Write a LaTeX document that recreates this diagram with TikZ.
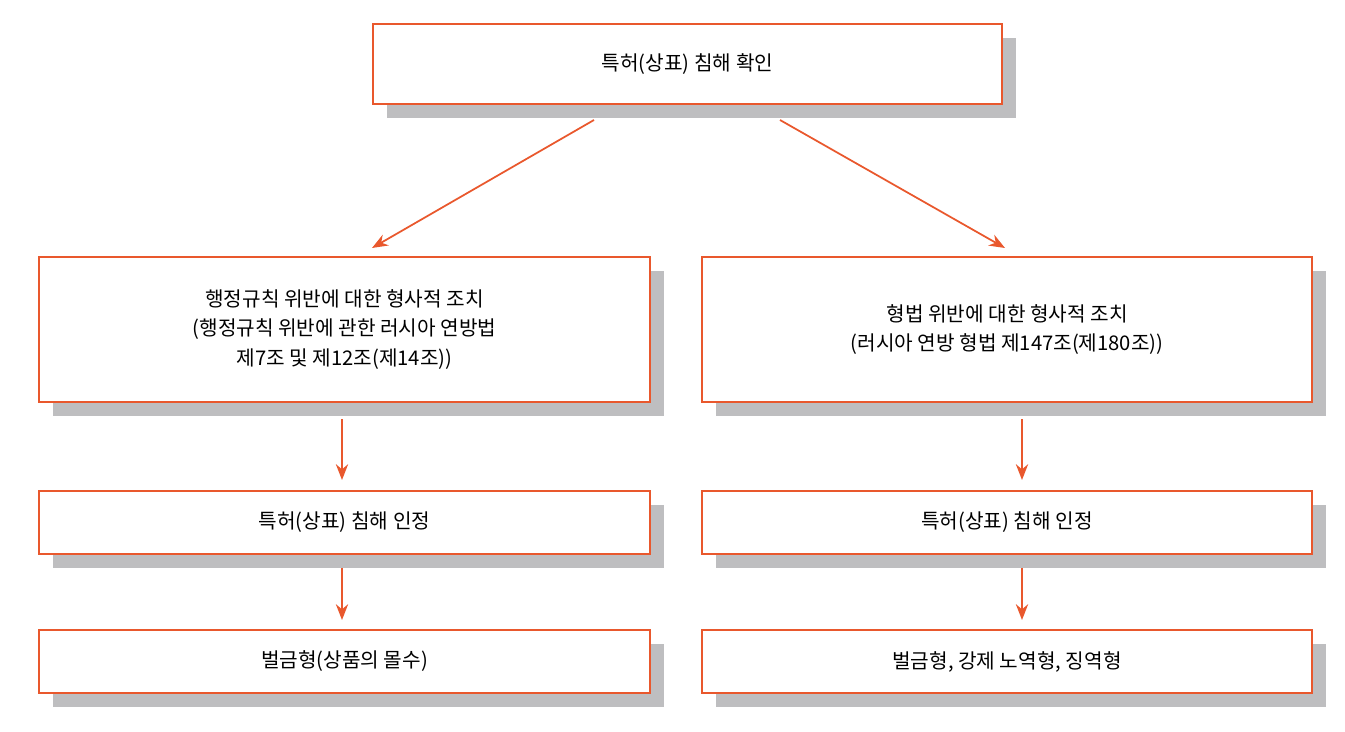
\documentclass[tikz,border=0pt]{standalone}
\usepackage{fontspec}
\setmainfont{Noto Sans CJK KR}
\usetikzlibrary{arrows.meta}
\definecolor{org}{RGB}{233,88,45}
\definecolor{shd}{RGB}{190,190,192}
\begin{document}
\begin{tikzpicture}[x=0.02cm,y=-0.02cm,
  box/.style={draw=org,line width=1.2pt,fill=white,align=center,font=\fontsize{11.5}{17}\selectfont},
  arr/.style={draw=org,line width=1pt,-{Stealth[length=9pt,width=7pt]}}]
\useasboundingbox (0,0) rectangle (1345,732);
\newcommand{\bx}[6]{%
  \fill[shd] (#1+14,#2+14) rectangle (#3+14,#4+14);
  \node[box,minimum width=(#3-#1)*0.02cm,minimum height=(#4-#2)*0.02cm] (#5) at ({(#1+#3)/2},{(#2+#4)/2}) {#6};}
\bx{373}{24}{1002}{104}{top}{특허(상표) 침해 확인}
\bx{39}{257}{650}{402}{lm}{행정규칙 위반에 대한 형사적 조치\\(행정규칙 위반에 관한 러시아 연방법\\제7조 및 제12조(제14조))}
\bx{702}{257}{1312}{402}{rm}{형법 위반에 대한 형사적 조치\\(러시아 연방 형법 제147조(제180조))}
\bx{39}{491}{650}{554}{l3}{특허(상표) 침해 인정}
\bx{702}{491}{1312}{554}{r3}{특허(상표) 침해 인정}
\bx{39}{630}{650}{693}{l4}{벌금형(상품의 몰수)}
\bx{702}{630}{1312}{693}{r4}{벌금형, 강제 노역형, 징역형}
\coordinate (a1) at (594,120); \coordinate (a2) at (372,248);
\coordinate (b1) at (780,120); \coordinate (b2) at (1005,248);
\draw[arr] (a1) -- (a2);
\draw[arr] (b1) -- (b2);
\draw[arr] (lm.south -| 342,0) ++(0,16) -- (342,480);
\draw[arr] (rm.south -| 1022,0) ++(0,16) -- (1022,480);
\draw[arr] (342,568) -- (342,620);
\draw[arr] (1022,568) -- (1022,620);
\end{tikzpicture}
\end{document}
